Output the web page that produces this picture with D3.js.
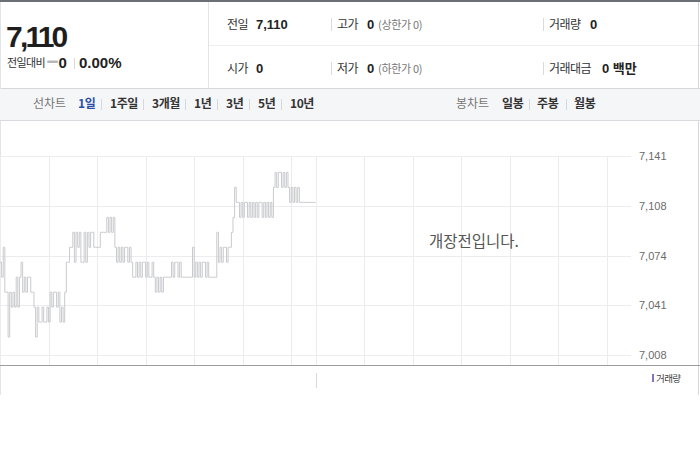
<!DOCTYPE html>
<html><head><meta charset="utf-8">
<script src="https://cdn.jsdelivr.net/npm/d3@7"></script>
<style>
html,body{margin:0;padding:0;background:#fff;}
svg{display:block;}
text{font-family:"Liberation Sans","Noto Sans CJK KR",sans-serif;}
.kr{font-family:"Noto Sans CJK KR","Liberation Sans",sans-serif;}
</style></head>
<body>
<svg id="c" width="700" height="450"></svg>
<script>
// ---------- data ----------
const currentPrice = "7,110";
const changeText = "0";
const changePct = "0.00%";
const infoLabels = [["전일","7,110",""],["고가","0","(상한가 0)"],["거래량","0",""],["시가","0",""],["저가","0","(하한가 0)"],["거래대금","0 백만",""]];
const lineTabs = ["1일","1주일","3개월","1년","3년","5년","10년"];
const candleTabs = ["일봉","주봉","월봉"];
const yTickLabels = ["7,008","7,041","7,074","7,108","7,141"];
const yDomain = [7008, 7141];
const minutesTotal = 390;
const xGridMinutes = [0,30,60,90,120,150,180,195,225,255,285,315,345,375];
// price per minute (minute 0 .. 195)
const prices = [
7070,7060,7080,7050,7050,7020,7050,7040,7050,7040,
7060,7040,7060,7070,7050,7060,7050,7060,7060,7050,
7050,7040,7020,7040,7030,7030,7040,7030,7030,7040,
7030,7050,7040,7050,7050,7040,7050,7030,7040,7030,
7050,7070,7070,7080,7080,7090,7070,7090,7080,7090,
7070,7070,7090,7070,7090,7080,7090,7090,7080,7080,
7080,7080,7090,7090,7090,7090,7100,7090,7100,7090,
7100,7080,7070,7080,7070,7080,7070,7080,7080,7070,
7080,7070,7060,7060,7070,7060,7070,7060,7070,7070,
7060,7070,7060,7060,7070,7060,7050,7060,7050,7060,
7050,7060,7060,7060,7060,7060,7070,7060,7070,7070,
7060,7070,7060,7060,7060,7060,7060,7060,7060,7080,
7060,7070,7060,7070,7060,7070,7070,7060,7070,7060,
7060,7060,7060,7060,7090,7070,7080,7070,7080,7080,
7070,7080,7080,7090,7100,7120,7110,7110,7100,7110,
7100,7110,7110,7100,7110,7100,7110,7100,7110,7100,
7110,7110,7100,7110,7100,7110,7100,7110,7100,7120,
7130,7120,7130,7130,7120,7130,7120,7130,7120,7110,
7120,7110,7120,7110,7120,7110,7110,7110,7110,7110,
7110,7110,7110,7110,7110,7110
];
const noticeText = "개장전입니다.";
const legendText = "거래량";

// ---------- drawing ----------
const svg = d3.select("#c");
const W = 700;

// header
svg.append("rect").attr("x",0).attr("y",0).attr("width",W).attr("height",2).attr("fill","#6c6f75");
svg.append("line").attr("x1",0).attr("x2",W).attr("y1",88.5).attr("y2",88.5).attr("stroke","#d5d7db");
svg.append("line").attr("x1",208.5).attr("x2",208.5).attr("y1",2).attr("y2",88).attr("stroke","#e3e4e7");
svg.append("line").attr("x1",209).attr("x2",W).attr("y1",45.5).attr("y2",45.5).attr("stroke","#eeeff1");
svg.append("line").attr("x1",0.5).attr("x2",0.5).attr("y1",2).attr("y2",395).attr("stroke","#e3e4e7");
svg.append("line").attr("x1",698.5).attr("x2",698.5).attr("y1",2).attr("y2",395).attr("stroke","#d5d7db");

svg.append("text").attr("x",6).attr("y",47).attr("font-size",30).attr("font-weight","bold")
  .attr("letter-spacing","-2.8").attr("fill","#1e1e1e").text(currentPrice);
svg.append("text").attr("class","kr").attr("x",7).attr("y",67).attr("font-size",11).attr("fill","#333").attr("letter-spacing","-0.6").text("전일대비");
svg.append("rect").attr("x",47).attr("y",60.5).attr("width",11).attr("height",2.5).attr("rx",1.2).attr("fill","#b5b7bb");
svg.append("text").attr("x",58.5).attr("y",68).attr("font-size",15).attr("font-weight","bold").attr("fill","#222").text(changeText);
svg.append("line").attr("x1",74.5).attr("x2",74.5).attr("y1",58).attr("y2",69).attr("stroke","#d8d9dc");
svg.append("text").attr("x",79).attr("y",68).attr("font-size",15).attr("font-weight","bold").attr("fill","#222").text(changePct);

const colX = [227, 337, 549];
const valX = [256, 367, null];
const sepX = [null, 331.5, 543.5];
const rowY = [29, 73];
infoLabels.forEach((d,i)=>{
  const col = i%3, row = Math.floor(i/3);
  const y = rowY[row];
  if (sepX[col]) svg.append("line").attr("x1",sepX[col]).attr("x2",sepX[col]).attr("y1",y-11).attr("y2",y+2).attr("stroke","#d9dadd");
  const lab = svg.append("text").attr("class","kr").attr("x",colX[col]).attr("y",y).attr("font-size",12).attr("fill","#333").attr("letter-spacing","-0.5").text(d[0]);
  let vx = valX[col];
  if (vx===null) vx = colX[col] + (row===0?41:53);
  svg.append("text").attr("x",vx).attr("y",y).attr("font-size",13).attr("font-weight","bold").attr("fill","#222").text(d[1]);
  if (d[2]) svg.append("text").attr("class","kr").attr("x",378).attr("y",y).attr("font-size",11).attr("fill","#777").attr("letter-spacing","-0.3").text(d[2]);
});

// tab bar
svg.append("rect").attr("x",0).attr("y",89).attr("width",W).attr("height",31).attr("fill","#f5f6f8");
svg.append("line").attr("x1",0).attr("x2",W).attr("y1",120.5).attr("y2",120.5).attr("stroke","#d8dadd");
const tabY = 108;
svg.append("text").attr("class","kr").attr("x",33).attr("y",tabY).attr("font-size",12).attr("fill","#777").text("선차트");
const lineTabX = [78,110,152,194,226,258,290];
lineTabs.forEach((t,i)=>{
  svg.append("text").attr("class","kr").attr("x",lineTabX[i]).attr("y",tabY).attr("font-size",12).attr("font-weight","bold")
    .attr("letter-spacing","-0.4").attr("fill", i===0?"#2a4ea6":"#333").text(t);
  if (i>0) svg.append("line").attr("x1",lineTabX[i]-8.5).attr("x2",lineTabX[i]-8.5).attr("y1",99).attr("y2",110).attr("stroke","#d6d8db");
});
svg.append("text").attr("class","kr").attr("x",456).attr("y",tabY).attr("font-size",12).attr("fill","#777").text("봉차트");
const candleTabX = [502,537,574];
candleTabs.forEach((t,i)=>{
  svg.append("text").attr("class","kr").attr("x",candleTabX[i]).attr("y",tabY).attr("font-size",12).attr("font-weight","bold")
    .attr("letter-spacing","-0.4").attr("fill","#333").text(t);
  if (i>0) svg.append("line").attr("x1",candleTabX[i]-7.5).attr("x2",candleTabX[i]-7.5).attr("y1",99).attr("y2",110).attr("stroke","#d6d8db");
});

// chart
const plot = {left:0, right:631, top:156, bottom:355, axisY:365};
const x = d3.scaleLinear().domain([0, minutesTotal]).range([plot.left, plot.right]);
const y = d3.scaleLinear().domain(yDomain).range([plot.bottom, plot.top]);
const yTickVals = d3.range(yTickLabels.length).map(i=> yDomain[0] + i*(yDomain[1]-yDomain[0])/(yTickLabels.length-1));

const g = svg.append("g");
g.selectAll("line.hg").data(yTickVals).join("line")
  .attr("x1",plot.left).attr("x2",plot.right)
  .attr("y1",d=>Math.round(y(d))+0.5).attr("y2",d=>Math.round(y(d))+0.5)
  .attr("stroke","#ececee");
g.selectAll("line.vg").data(xGridMinutes).join("line")
  .attr("x1",d=>Math.round(x(d))+0.5).attr("x2",d=>Math.round(x(d))+0.5)
  .attr("y1",plot.top).attr("y2",plot.axisY)
  .attr("stroke","#ececee");
g.append("line").attr("x1",607.5).attr("x2",607.5).attr("y1",plot.top).attr("y2",plot.axisY).attr("stroke","#ececee");

const yAxis = d3.axisRight(y).tickValues(yTickVals).tickSize(0).tickPadding(0)
  .tickFormat((d,i)=>yTickLabels[i]);
const ya = g.append("g").attr("transform",`translate(639,0)`).call(yAxis);
ya.select(".domain").remove();
ya.selectAll("text").attr("font-size",11).attr("fill","#6b6b6b").attr("font-family","Liberation Sans, sans-serif");

// axis line
g.append("line").attr("x1",0).attr("x2",W).attr("y1",plot.axisY+0.5).attr("y2",plot.axisY+0.5).attr("stroke","#9a9ca0");

// price line
const series = prices.map((v,i)=>[i,v]);
const line = d3.line().x(d=>x(d[0])).y(d=>y(d[1])).curve(d3.curveStepAfter);
g.append("path").datum(series).attr("d",line).attr("fill","none").attr("stroke","#c9cace").attr("stroke-width",1);

// notice
svg.append("text").attr("class","kr").attr("x",429).attr("y",247).attr("font-size",15.5).attr("fill","#555").text(noticeText);

// volume area
svg.append("line").attr("x1",316.5).attr("x2",316.5).attr("y1",373).attr("y2",388).attr("stroke","#d8d9dc");
svg.append("rect").attr("x",652).attr("y",374).attr("width",2).attr("height",8).attr("fill","#8a6fc4");
svg.append("text").attr("class","kr").attr("x",656).attr("y",382).attr("font-size",9.5).attr("letter-spacing","-0.6").attr("fill","#444").text(legendText);
</script>
</body></html>
